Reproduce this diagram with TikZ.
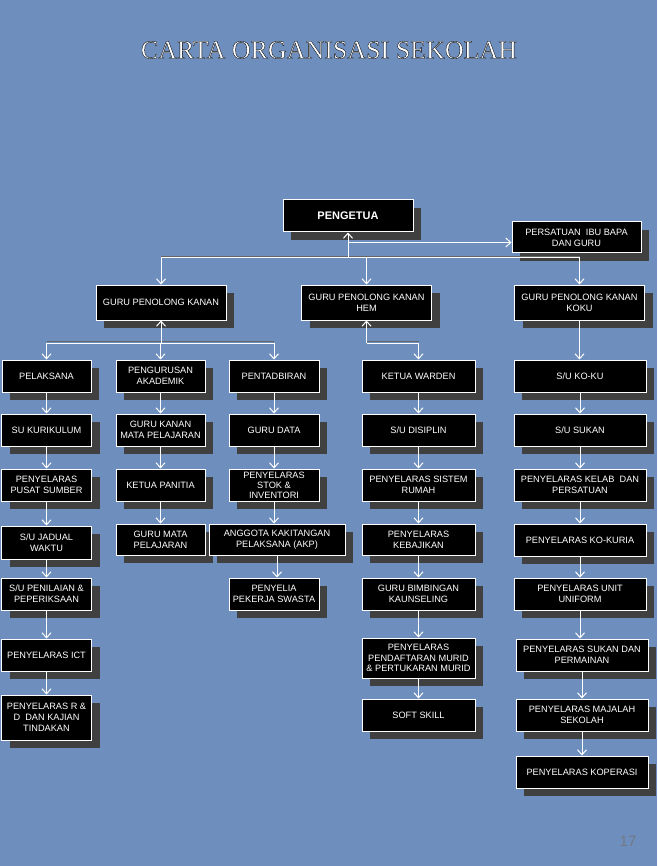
\documentclass[tikz,border=0pt]{standalone}
\usepackage{fontspec}
\setsansfont{Liberation Sans}
\newfontfamily\titlefont{Liberation Serif}
\usetikzlibrary{arrows.meta,positioning,shadows}
\definecolor{bg}{HTML}{6E8FBE}
\definecolor{shade}{HTML}{404040}
\definecolor{pgno}{HTML}{737884}

\begin{document}
\begin{tikzpicture}[x=1pt,y=-1pt,font=\sffamily\fontsize{9.2}{10.8}\selectfont,
  node distance=22pt,
  box/.style={draw=white,line width=1pt,fill=black,text=white,align=center,
    inner sep=1pt,minimum height=32pt,
    drop shadow={shadow xshift=8pt,shadow yshift=-8pt,fill=shade,opacity=1}},
  narrow/.style={box,minimum width=90pt},
  mid/.style={box,minimum width=113pt},
  wide/.style={box,minimum width=132pt},
  head/.style={box,minimum width=130pt,minimum height=35pt},
  arr/.style={draw=white,line width=1pt,-{Straight Barb[length=5pt,width=9pt]}},
  bus/.style={draw=white,line width=1pt,
    preaction={draw=black!60,line width=1.2pt,transform canvas={yshift=1.2pt}}}]
  \useasboundingbox (0,0) rectangle (657,866);
  \fill[bg] (0,0) rectangle (657,866);
  \node[text=white,font=\titlefont\fontsize{26}{30}\selectfont] (title) at (329,50)
    {\special{pdf:literal direct 2 Tr 0 G 0.35 w}CARTA ORGANISASI SEKOLAH\special{pdf:literal direct 0 Tr}};
  \node[text=pgno,font=\sffamily\fontsize{15}{18}\selectfont] (pg) at (628,841) {17};
  % top
  \node[head,minimum height=32pt,font=\sffamily\bfseries\fontsize{11}{13}\selectfont] (ketua) at (348,216) {PENGETUA};
  \node[box,minimum width=129pt,minimum height=31pt] (pibg) at (576.5,237.5) {PERSATUAN\ \ IBU BAPA\\DAN GURU};
  \node[head] (gpk) at (161,302.5) {GURU PENOLONG KANAN};
  \node[head] (hem) at (366.5,302.5) {GURU PENOLONG KANAN\\HEM};
  \node[head] (koku) at (579.5,302.5) {GURU PENOLONG KANAN\\KOKU};
  % first row
  \node[narrow,minimum width=89pt] (pelaksana) at (46.5,376) {PELAKSANA};
  \node[narrow,minimum width=89pt] (akademik) at (160.5,376) {PENGURUSAN\\AKADEMIK};
  \node[narrow] (tadbir) at (274,376) {PENTADBIRAN};
  \node[mid] (warden) at (418.5,376) {KETUA WARDEN};
  \node[wide] (suko) at (580,376) {S/U KO-KU};
  % pelaksana
  \node[narrow,below=21pt of pelaksana] (kurikulum) {SU KURIKULUM};
  \node[narrow,below=of kurikulum] (sumber) {PENYELARAS\\PUSAT SUMBER};
  \node[narrow,below=24pt of sumber,minimum height=33pt] (jadual) {S/U JADUAL\\WAKTU};
  \node[narrow,below=18pt of jadual] (nilai) {S/U PENILAIAN \&\\PEPERIKSAAN};
  \node[narrow,below=28pt of nilai] (ict) {PENYELARAS ICT};
  \node[narrow,below=23pt of ict,minimum height=45pt] (rnd) {PENYELARAS R \&\\D\ \ DAN KAJIAN\\TINDAKAN};
  % akademik
  \node[narrow,minimum width=89pt,below=21pt of akademik] (gkmp) {GURU KANAN\\MATA PELAJARAN};
  \node[narrow,minimum width=89pt,below=of gkmp] (panitia) {KETUA PANITIA};
  \node[narrow,minimum width=89pt,below=of panitia,minimum height=31pt] (gmp) {GURU MATA\\PELAJARAN};
  % pentadbiran
  \node[narrow,below=21pt of tadbir] (data) {GURU DATA};
  \node[narrow,below=of data,font=\sffamily\fontsize{9.2}{10}\selectfont] (stok) {PENYELARAS\\STOK \&\\INVENTORI};
  \node[box,minimum width=136pt,minimum height=31pt,below=of stok,xshift=3pt] (akp) {ANGGOTA KAKITANGAN\\PELAKSANA (AKP)};
  \node[narrow,below=of akp,xshift=-3pt] (penyelia) {PENYELIA\\PEKERJA SWASTA};
  % hem
  \node[mid,below=21pt of warden] (disiplin) {S/U DISIPLIN};
  \node[mid,below=of disiplin] (rumah) {PENYELARAS SISTEM\\RUMAH};
  \node[mid,below=of rumah,minimum height=31pt] (kebajikan) {PENYELARAS\\KEBAJIKAN};
  \node[mid,below=of kebajikan] (bimbingan) {GURU BIMBINGAN\\KAUNSELING};
  \node[mid,below=27pt of bimbingan,minimum height=40pt] (daftar) {PENYELARAS\\PENDAFTARAN MURID\\\& PERTUKARAN MURID};
  \node[mid,below=20pt of daftar] (soft) {SOFT SKILL};
  % koku
  \node[wide,below=21pt of suko] (sukan) {S/U SUKAN};
  \node[wide,below=of sukan] (kelab) {PENYELARAS KELAB\ \ DAN\\PERSATUAN};
  \node[wide,below=of kelab] (kokuria) {PENYELARAS KO-KURIA};
  \node[wide,below=21pt of kokuria] (uniform) {PENYELARAS UNIT\\UNIFORM};
  \node[wide,below=28pt of uniform,xshift=2pt] (main) {PENYELARAS SUKAN DAN\\PERMAINAN};
  \node[wide,below=27pt of main] (majalah) {PENYELARAS MAJALAH\\SEKOLAH};
  \node[wide,below=24pt of majalah] (koperasi) {PENYELARAS KOPERASI};
  % links
  \coordinate (bus1) at (348,258);
  \coordinate (bus2) at (161,343);
  \coordinate (bus3) at (366.5,343);
  \coordinate (pin) at ([yshift=-5pt]pibg.west);
  \draw[bus] (bus1 -| gpk) -- (bus1 -| koku);
  \draw[arr] (bus1) -- (ketua);
  \draw[arr] (ketua.south |- pin) -- (pin);
  \foreach \n in {gpk,hem,koku} \draw[arr] (bus1 -| \n) -- (\n);
  \draw[bus] (bus2 -| pelaksana) -- (bus2 -| tadbir);
  \draw[arr] (bus2) -- (gpk);
  \foreach \n in {pelaksana,akademik,tadbir} \draw[arr] (bus2 -| \n) -- (\n);
  \draw[bus] (bus3) -- (bus3 -| warden);
  \draw[arr] (bus3) -- (hem);
  \draw[arr] (bus3 -| warden) -- (warden);
  \draw[arr] (koku) -- (koku |- suko.north);
  \foreach \a/\b in {pelaksana/kurikulum,kurikulum/sumber,sumber/jadual,jadual/nilai,
      nilai/ict,ict/rnd,akademik/gkmp,gkmp/panitia,panitia/gmp,tadbir/data,data/stok,
      stok/akp,akp/penyelia,warden/disiplin,disiplin/rumah,rumah/kebajikan,
      kebajikan/bimbingan,bimbingan/daftar,daftar/soft,suko/sukan,sukan/kelab,
      kelab/kokuria,kokuria/uniform,uniform/main,main/majalah,majalah/koperasi}
    \draw[arr] (\a) -- (\a |- \b.north);
\end{tikzpicture}
\end{document}
